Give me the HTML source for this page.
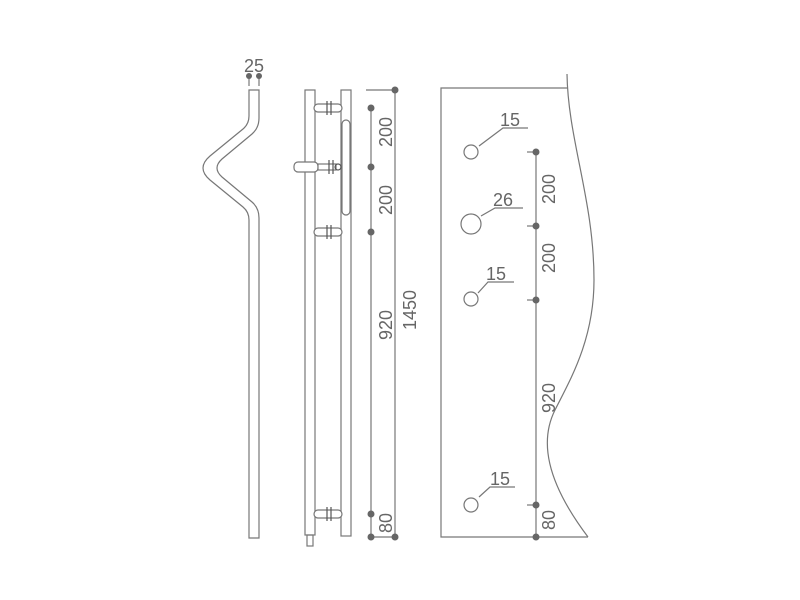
<!DOCTYPE html>
<html><head><style>html,body{margin:0;padding:0;background:#fff;}svg{display:block}</style></head>
<body>
<svg width="800" height="600" viewBox="0 0 800 600" xmlns="http://www.w3.org/2000/svg" font-family="Liberation Sans, sans-serif" fill="none" stroke="#777" stroke-width="1.2">
<!-- left bent bar -->
<path d="M249,538 L249,220 Q249,212 243,207 L210,180 Q196,168 210,156 L243,129 Q249,124 249,116 L249,90 L259,90 L259,118 Q259,128 252,134 L222,159 Q212,168 222,177 L252,202 Q259,208 259,218 L259,538 Z"/>
<line x1="249" y1="76" x2="249" y2="86"/><line x1="259" y1="76" x2="259" y2="86"/>
<circle cx="249" cy="76" r="3" fill="#666" stroke="none"/><circle cx="259" cy="76" r="3" fill="#666" stroke="none"/>
<text x="254" y="72" font-size="18" fill="#666" stroke="none" text-anchor="middle">25</text>
<!-- middle tubes -->
<rect x="305" y="90" width="10" height="445"/>
<rect x="341" y="90" width="10" height="446"/>
<rect x="307" y="535" width="6" height="11"/>
<rect x="342" y="120" width="8" height="95" rx="4"/>
<g fill="#fff">
<rect x="314" y="104" width="28" height="8" rx="4"/>
<rect x="314" y="228" width="28" height="8" rx="4"/>
<rect x="314" y="510" width="28" height="8" rx="4"/>
<rect x="294" y="162" width="24" height="10" rx="4"/>
<rect x="318" y="164" width="18" height="6"/>
</g>
<g stroke="#555">
<line x1="327" y1="101" x2="327" y2="115"/><line x1="331" y1="101" x2="331" y2="115"/>
<line x1="327" y1="225" x2="327" y2="239"/><line x1="331" y1="225" x2="331" y2="239"/>
<line x1="327" y1="507" x2="327" y2="521"/><line x1="331" y1="507" x2="331" y2="521"/>
<line x1="329" y1="160" x2="329" y2="174"/><line x1="333" y1="160" x2="333" y2="174"/>
<circle cx="338" cy="167" r="3"/>
</g>
<!-- dimension lines -->
<line x1="371" y1="108" x2="371" y2="537"/>
<line x1="395" y1="90" x2="395" y2="537"/>
<line x1="366" y1="90" x2="395" y2="90"/>
<line x1="371" y1="537" x2="395" y2="537"/>
<g fill="#666" stroke="none">
<circle cx="371" cy="108" r="3.5"/><circle cx="371" cy="167" r="3.5"/><circle cx="371" cy="232" r="3.5"/><circle cx="371" cy="514" r="3.5"/><circle cx="371" cy="537" r="3.5"/>
<circle cx="395" cy="90" r="3.5"/><circle cx="395" cy="537" r="3.5"/>
</g>
<g fill="#666" stroke="none" font-size="18" text-anchor="middle">
<text transform="translate(392,132) rotate(-90)">200</text>
<text transform="translate(392,200) rotate(-90)">200</text>
<text transform="translate(392,325) rotate(-90)">920</text>
<text transform="translate(392,523) rotate(-90)">80</text>
<text transform="translate(416,310) rotate(-90)">1450</text>
</g>
<!-- right panel -->
<path d="M568,88 L441,88 L441,537 L588,537"/>
<path d="M567,74 C568,140 594,200 594,280 C594,340 570,380 555,410 C540,440 545,480 588,537"/>
<line x1="536" y1="152" x2="536" y2="537"/>
<g>
<line x1="527" y1="152" x2="536" y2="152"/><line x1="527" y1="226" x2="536" y2="226"/><line x1="527" y1="300" x2="536" y2="300"/><line x1="527" y1="505" x2="536" y2="505"/>
</g>
<g fill="#666" stroke="none">
<circle cx="536" cy="152" r="3.5"/><circle cx="536" cy="226" r="3.5"/><circle cx="536" cy="300" r="3.5"/><circle cx="536" cy="505" r="3.5"/><circle cx="536" cy="537" r="3.5"/>
</g>
<circle cx="471" cy="152" r="7"/>
<circle cx="471" cy="224" r="10"/>
<circle cx="471" cy="299" r="7"/>
<circle cx="471" cy="505" r="7"/>
<path d="M479,146 L503,128 L528,128"/>
<path d="M481,216 L495,208 L523,208"/>
<path d="M478,293 L488,282 L514,282"/>
<path d="M479,497 L490,487 L515,487"/>
<g fill="#666" stroke="none" font-size="18">
<text x="500" y="126">15</text>
<text x="493" y="206">26</text>
<text x="486" y="280">15</text>
<text x="490" y="485">15</text>
</g>
<g fill="#666" stroke="none" font-size="18" text-anchor="middle">
<text transform="translate(555,189) rotate(-90)">200</text>
<text transform="translate(555,258) rotate(-90)">200</text>
<text transform="translate(555,398) rotate(-90)">920</text>
<text transform="translate(555,520) rotate(-90)">80</text>
</g>
</svg>
</body></html>
